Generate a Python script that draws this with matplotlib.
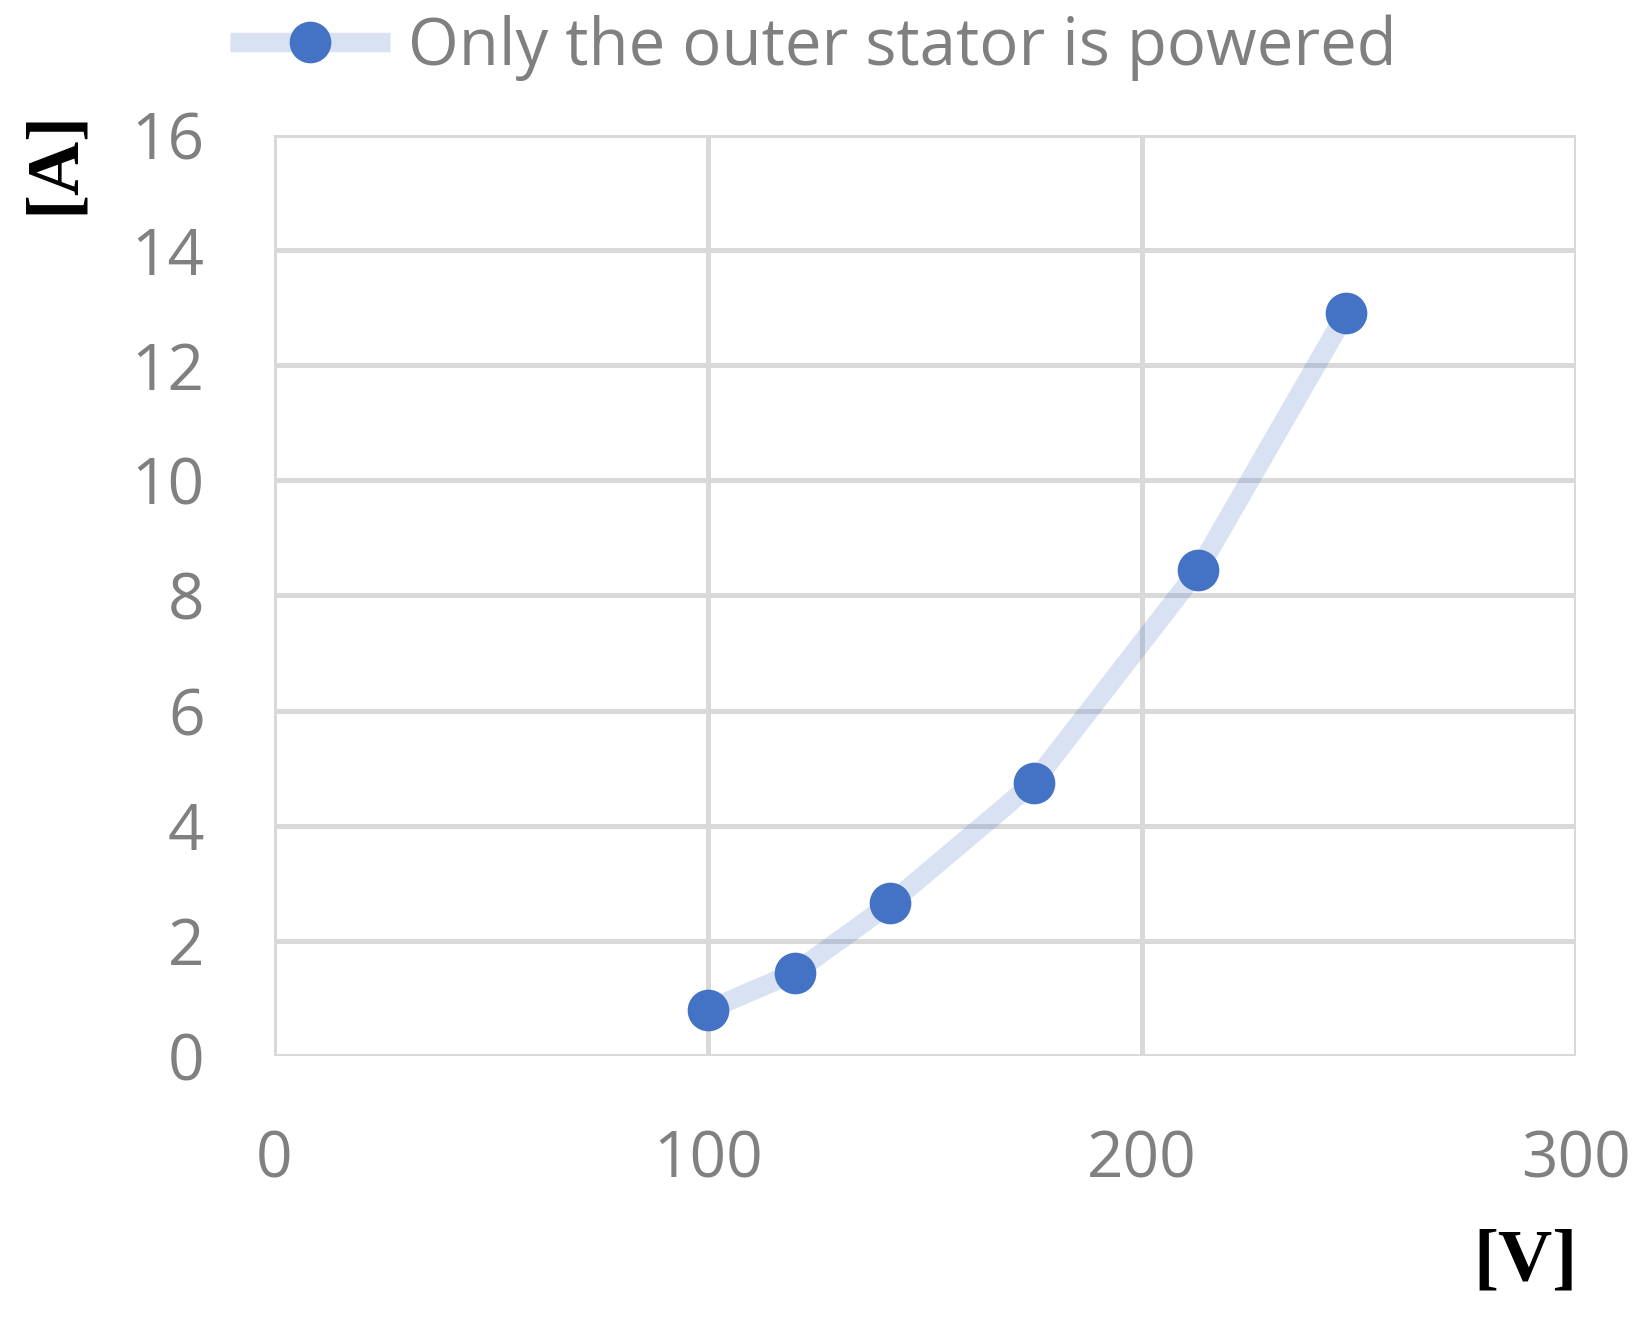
import matplotlib
matplotlib.use("Agg")
import matplotlib.pyplot as plt

# measured points (voltage vs current)
volts = [100, 120, 142, 175, 213, 247]
amps = [0.8, 1.45, 2.65, 4.75, 8.45, 12.9]
series_name = "Only the outer stator is powered"

x_ticks = [0, 100, 200, 300]
y_ticks = [0, 2, 4, 6, 8, 10, 12, 14, 16]

grey_txt = "#808080"
grid_col = "#d9d9d9"
blue = (68 / 255, 114 / 255, 196 / 255)

fig = plt.figure(figsize=(16.51, 13.18), dpi=100)
ax = fig.add_axes([0.166, 0.1988, 0.7886, 0.6988])

ax.plot(volts, amps, color=blue + (0.2,), lw=14, solid_capstyle="butt", zorder=2,
        marker="o", markersize=29, markerfacecolor=blue,
        markeredgecolor=blue, label=series_name)

ax.set_xlim(0, 300)
ax.set_ylim(0, 16)
ax.set_xticks(x_ticks)
ax.set_yticks(y_ticks)
ax.grid(True, color=grid_col, lw=3.6, zorder=0)
ax.set_axisbelow(True)
for s in ax.spines.values():
    s.set_visible(False)
ax.tick_params(axis="both", length=0, labelsize=46, labelcolor=grey_txt)
ax.tick_params(axis="y", pad=50)
ax.tick_params(axis="x", pad=52)
for lab in ax.get_xticklabels() + ax.get_yticklabels():
    lab.set_family("Open Sans")

fig.text(55 / 1651, 1 - 162 / 1318, "[A]", rotation=90, ha="center", va="center",
         family="Liberation Serif", fontweight="bold", fontsize=54)
fig.text(1525 / 1651, 1 - 1263 / 1318, "[V]", ha="center", va="center",
         family="Liberation Serif", fontweight="bold", fontsize=54)

leg = fig.legend(loc="center left", bbox_to_anchor=(230 / 1651, 1 - 48 / 1318),
                 frameon=False, borderpad=0, borderaxespad=0,
                 handlelength=2.45, handletextpad=0.27,
                 prop={"family": "Open Sans", "size": 47})
for t in leg.get_texts():
    t.set_color(grey_txt)

fig.savefig("out.png", dpi=100)
